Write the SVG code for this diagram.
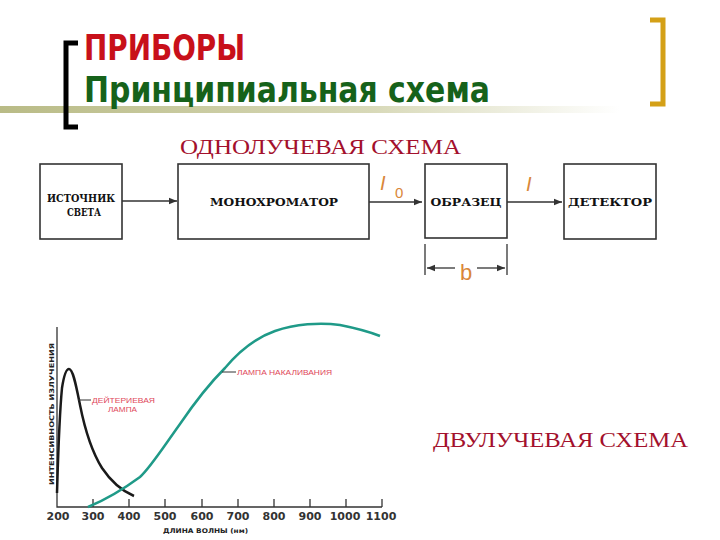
<svg xmlns="http://www.w3.org/2000/svg" width="720" height="540" viewBox="0 0 720 540">
<defs>
<linearGradient id="bar" x1="0" y1="0" x2="1" y2="0">
<stop offset="0" stop-color="#b9bb86"/>
<stop offset="0.6" stop-color="#d8d9b8"/>
<stop offset="1" stop-color="#ffffff"/>
</linearGradient>
<marker id="arr" viewBox="0 0 10 10" refX="10" refY="5" markerWidth="8" markerHeight="8" markerUnits="userSpaceOnUse" orient="auto">
<path d="M0,1 L10,5 L0,9 Z" fill="#333"/>
</marker>
<style>
.box{fill:#fff;stroke:#333;stroke-width:1.6}
.bt{font-family:"DejaVu Serif",serif;font-weight:bold;font-size:11px;fill:#111;text-anchor:middle}
.con{stroke:#333;stroke-width:1.3;fill:none}
.lab{font-family:"Liberation Sans",sans-serif;font-style:italic;fill:#d9873a;font-size:20px}
.red{font-family:"Liberation Serif",serif;fill:#a3102c;font-size:21px}
.tick{font-family:"DejaVu Sans",sans-serif;font-weight:bold;font-size:11px;fill:#333;text-anchor:middle}
.small{font-family:"DejaVu Sans",sans-serif;font-weight:bold;font-size:6.5px;fill:#222}
.note{font-family:"Liberation Sans",sans-serif;font-size:7.5px;fill:#e0485a}
.title{font-family:"DejaVu Sans Condensed","DejaVu Sans",sans-serif;font-weight:bold;font-size:36px}
</style>
</defs>
<rect width="720" height="540" fill="#fff"/>
<!-- title -->
<rect x="0" y="106" width="620" height="7" fill="url(#bar)"/>
<path d="M78,43 H66 V127 H78" fill="none" stroke="#000" stroke-width="5"/>
<path d="M650,20 H663 V104 H650" fill="none" stroke="#d4a017" stroke-width="5"/>
<text class="title" x="84" y="60" fill="#c8101a" textLength="161" lengthAdjust="spacingAndGlyphs">ПРИБОРЫ</text>
<text class="title" x="84" y="102" fill="#16621a" textLength="406" lengthAdjust="spacingAndGlyphs">Принципиальная схема</text>
<text x="180" y="154" class="red" textLength="281" lengthAdjust="spacingAndGlyphs">ОДНОЛУЧЕВАЯ СХЕМА</text>
<text x="433" y="447" class="red" textLength="255" lengthAdjust="spacingAndGlyphs">ДВУЛУЧЕВАЯ СХЕМА</text>
<!-- nodes -->
<g id="source">
<rect class="box" x="40" y="164" width="82" height="75"/>
<text class="bt" x="81" y="202" textLength="68" lengthAdjust="spacingAndGlyphs">ИСТОЧНИК</text>
<text class="bt" x="84" y="216" textLength="34" lengthAdjust="spacingAndGlyphs">СВЕТА</text>
</g>
<g id="mono">
<rect class="box" x="178" y="164" width="191" height="75"/>
<text class="bt" x="274" y="206" textLength="128" lengthAdjust="spacingAndGlyphs">МОНОХРОМАТОР</text>
</g>
<g id="sample">
<rect class="box" x="425" y="164" width="82" height="74"/>
<text class="bt" x="466" y="206" textLength="71" lengthAdjust="spacingAndGlyphs">ОБРАЗЕЦ</text>
</g>
<g id="detector">
<rect class="box" x="564" y="164" width="92" height="75"/>
<text class="bt" x="610" y="206" textLength="84" lengthAdjust="spacingAndGlyphs">ДЕТЕКТОР</text>
</g>
<g id="connectors">
<line class="con" x1="122" y1="201" x2="177" y2="201" marker-end="url(#arr)"/>
<line class="con" x1="369" y1="202" x2="422" y2="202" marker-end="url(#arr)"/>
<line class="con" x1="507" y1="202" x2="562" y2="202" marker-end="url(#arr)"/>
<line class="con" x1="425" y1="244" x2="425" y2="275"/>
<line class="con" x1="507" y1="244" x2="507" y2="275"/>
<line class="con" x1="455" y1="268" x2="427" y2="268" marker-end="url(#arr)"/>
<line class="con" x1="477" y1="268" x2="505" y2="268" marker-end="url(#arr)"/>
</g>
<text class="lab" x="380" y="190">I</text>
<text x="395" y="198" font-family="Liberation Sans, sans-serif" font-size="15" fill="#d9873a">0</text>
<text class="lab" x="526" y="191">I</text>
<text x="466" y="280" font-family="Liberation Sans, sans-serif" font-size="22" fill="#d9873a" text-anchor="middle">b</text>
<!-- chart -->
<g id="chart">
<path d="M57,327 V507 H382" fill="none" stroke="#333" stroke-width="1.3"/>
<g stroke="#333" stroke-width="1.3">
<line x1="93" y1="499" x2="93" y2="507"/>
<line x1="129" y1="499" x2="129" y2="507"/>
<line x1="165" y1="499" x2="165" y2="507"/>
<line x1="202" y1="499" x2="202" y2="507"/>
<line x1="238" y1="499" x2="238" y2="507"/>
<line x1="274" y1="499" x2="274" y2="507"/>
<line x1="310" y1="499" x2="310" y2="507"/>
<line x1="346" y1="499" x2="346" y2="507"/>
<line x1="382" y1="499" x2="382" y2="507"/>
</g>
<text class="tick" x="58" y="520">200</text>
<text class="tick" x="93" y="520">300</text>
<text class="tick" x="129" y="520">400</text>
<text class="tick" x="165" y="520">500</text>
<text class="tick" x="202" y="520">600</text>
<text class="tick" x="238" y="520">700</text>
<text class="tick" x="274" y="520">800</text>
<text class="tick" x="310" y="520">900</text>
<text class="tick" x="345" y="520">1000</text>
<text class="tick" x="381" y="520">1100</text>
<text class="small" x="163" y="533" textLength="85" lengthAdjust="spacingAndGlyphs">ДЛИНА ВОЛНЫ (нм)</text>
<text class="small" transform="translate(54,485) rotate(-90)" textLength="142" lengthAdjust="spacingAndGlyphs">ИНТЕНСИВНОСТЬ ИЗЛУЧЕНИЯ</text>
<path d="M57,493 C58,460 59,420 62,388 C64,375 66,369 69,369 C73,369 76,385 80,405 C85,430 92,452 102,468 C110,480 120,490 134,496" fill="none" stroke="#1a1a1a" stroke-width="2.5"/>
<path d="M88,507 C105,500 125,488 140,477 C150,468 160,452 180,424 C195,402 210,383 225,368 C240,350 255,338 275,331 C295,324 320,322 340,325 C355,328 370,332 380,336" fill="none" stroke="#1f9a88" stroke-width="2.5"/>
<line x1="78" y1="400" x2="91" y2="400" stroke="#333" stroke-width="1"/>
<text class="note" x="92" y="403" textLength="63" lengthAdjust="spacingAndGlyphs">ДЕЙТЕРИЕВАЯ</text>
<text class="note" x="108" y="412" textLength="29" lengthAdjust="spacingAndGlyphs">ЛАМПА</text>
<line x1="222" y1="372" x2="236" y2="372" stroke="#333" stroke-width="1"/>
<text class="note" x="237" y="375" textLength="95" lengthAdjust="spacingAndGlyphs">ЛАМПА НАКАЛИВАНИЯ</text>
</g>
</svg>
